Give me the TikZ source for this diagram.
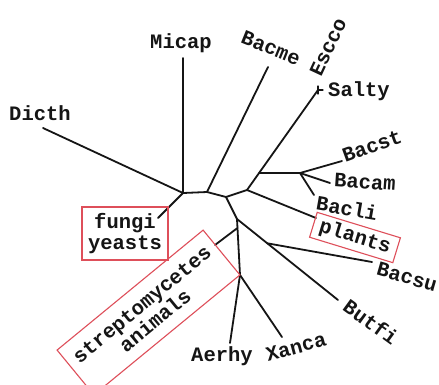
\documentclass[tikz,border=0pt]{standalone}
\usepackage{fontspec}
\setmonofont{Liberation Mono}
\usetikzlibrary{calc}
\definecolor{ink}{HTML}{151515}
\definecolor{boxred}{HTML}{DE4F5A}

\begin{document}
\begin{tikzpicture}[x=1pt,y=-1pt,
  branch/.style={draw=ink,line width=1.8pt,line cap=round,line join=round},
  taxon/.style={font=\fontsize{20.5}{21}\selectfont\ttfamily\bfseries,text=ink,inner sep=0pt},
  group/.style={taxon,draw=boxred,line width=1.1pt,align=center}]
\useasboundingbox[fill=white] (0,0) rectangle (439,384);
% inner nodes of the tree
\coordinate (a) at (183,193);
\coordinate (b) at (207,192);
\coordinate (c) at (226,197);
\coordinate (c2) at (247,190);
\coordinate (d) at (237,219);
\coordinate (e) at (240,275);
\coordinate (k) at (300,173);
% leaf ends
\coordinate (dicthend) at (43,128);
\coordinate (micapend) at (183,58);
\coordinate (fungiend) at (158,218);
\coordinate (bacmeend) at (268,67);
\coordinate (saltyend) at (318,90);
\coordinate (bacstend) at (342,161);
\coordinate (bacamend) at (330,183);
\coordinate (bacliend) at (314,195);
\coordinate (plantsend) at (316,218);
\coordinate (bacsuend) at (372,262);
\coordinate (butfiend) at (338,300);
\coordinate (aerhyend) at (230,343);
\coordinate (xancaend) at (282,337);
\coordinate (streptend) at (215,245);
\coordinate (kb) at ($(c2)!0.17!(saltyend)$);
\coordinate (sb) at ($(d)!0.3!(butfiend)$);
\coordinate (tb) at ($(d)!0.16!(e)$);

\draw[branch] (dicthend) -- (a) -- (micapend);
\draw[branch] (a) -- (fungiend);
\draw[branch] (a) -- (b) -- (bacmeend);
\draw[branch] (b) -- (c) -- (c2) -- (saltyend);
\draw[branch] (kb) -- (k) -- (bacstend);
\draw[branch] (k) -- (bacamend);
\draw[branch] (k) -- (bacliend);
\draw[branch] (c2) -- (plantsend);
\draw[branch] (c) -- (d) -- (butfiend);
\draw[branch] (sb) -- (bacsuend);
\draw[branch] (d) -- (e) -- (aerhyend);
\draw[branch] (e) -- (xancaend);
\draw[branch] (tb) -- (streptend);
\draw[branch,line width=1.2pt] ($(saltyend)+(0,-4)$) -- ($(saltyend)+(0,4)$);
\draw[branch,line width=1.2pt] (saltyend) -- ++(5,0);

% labels
\node[taxon] (dicth) at (40,113) {Dicth};
\node[taxon] (micap) at (181,43) {Micap};
\node[taxon,rotate=-22] (bacme) at (271,48) {Bacme};
\node[taxon,rotate=65] (escco) at (328,47) {Escco};
\node[taxon] (salty) at (359,91) {Salty};
\node[taxon,rotate=20] (bacst) at (372,146) {Bacst};
\node[taxon,rotate=-4] (bacam) at (365,182) {Bacam};
\node[taxon,rotate=-10] (bacli) at (347,208) {Bacli};
\node[taxon,rotate=-16] (bacsu) at (407,277) {Bacsu};
\node[taxon,rotate=-36] (butfi) at (371,322) {Butfi};
\node[taxon,rotate=15] (xanca) at (296,347) {Xanca};
\node[taxon] (aerhy) at (222,356) {Aerhy};

% boxed groups
\node[group,minimum width=86,minimum height=53] (fungi) at (125,233.5) {fungi\\yeasts};
\node[group,rotate=-17,minimum width=87,minimum height=26] (plants) at (355,237.5) {plants};
\node[group,rotate=39.4,minimum width=189,minimum height=58] (strept) at (148.5,312.5) {streptomycetes\\animals};
\end{tikzpicture}
\end{document}
